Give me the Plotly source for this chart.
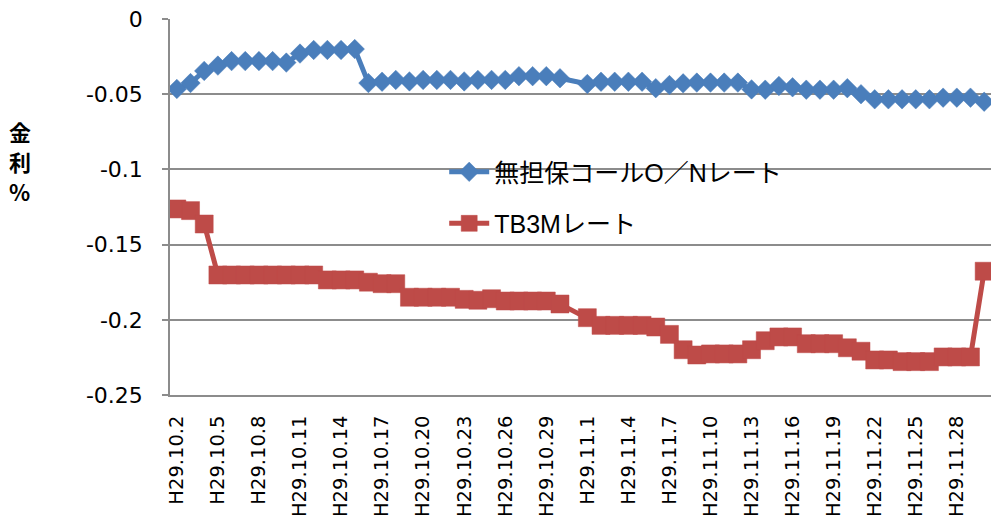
import plotly.graph_objects as go

# categories: every day from H29.10.2 to H29.11.30
oct_days = [f"H29.10.{d}" for d in range(2, 32)]
nov_days = [f"H29.11.{d}" for d in range(1, 31)]
dates = oct_days + nov_days

tick_labels = dates[::3]

call_rate = [
    -0.0465, -0.0426, -0.0345, -0.0310, -0.0280, -0.0280, -0.0280, -0.0280, -0.0290, -0.0230,
    -0.0206, -0.0206, -0.0206, -0.0200, -0.0426, -0.0417, -0.0405, -0.0415, -0.0405, -0.0405,
    -0.0405, -0.0415, -0.0405, -0.0405, -0.0405, -0.0380, -0.0380, -0.0380, -0.0394, None,
    -0.0432, -0.0417, -0.0417, -0.0417, -0.0417, -0.0460, -0.0439, -0.0428, -0.0423, -0.0423,
    -0.0423, -0.0423, -0.0468, -0.0470, -0.0445, -0.0454, -0.0470, -0.0470, -0.0470, -0.0460,
    -0.0500, -0.0534, -0.0534, -0.0534, -0.0534, -0.0534, -0.0523, -0.0523, -0.0523, -0.0550,
]

tb3m_rate = [
    -0.1263, -0.1274, -0.1363, -0.1702, -0.1702, -0.1702, -0.1702, -0.1702, -0.1702, -0.1702,
    -0.1702, -0.1735, -0.1735, -0.1735, -0.1750, -0.1760, -0.1760, -0.1850, -0.1850, -0.1850,
    -0.1850, -0.1864, -0.1870, -0.1860, -0.1875, -0.1875, -0.1875, -0.1875, -0.1895, None,
    -0.1986, -0.2037, -0.2037, -0.2037, -0.2037, -0.2048, -0.2097, -0.2199, -0.2234, -0.2227,
    -0.2227, -0.2227, -0.2199, -0.2139, -0.2114, -0.2114, -0.2159, -0.2159, -0.2159, -0.2186,
    -0.2209, -0.2267, -0.2267, -0.2278, -0.2278, -0.2278, -0.2247, -0.2247, -0.2247, -0.1677,
]

y_tickvals = [-0.25, -0.2, -0.15, -0.1, -0.05, 0]
y_ticktext = ["-0.25", "-0.2", "-0.15", "-0.1", "-0.05", "0"]

y_title_chars = ["金", "利", "%"]

BLUE = "#4A7EBB"
RED = "#BE4B48"
GRID = "#8C8C8C"
JP = "Liberation Sans, Noto Sans CJK JP, sans-serif"

fig = go.Figure()
fig.add_trace(go.Scatter(
    x=dates, y=call_rate, name="無担保コールO／Nレート",
    mode="lines+markers", connectgaps=True, legendgroup="a",
    line=dict(color=BLUE, width=5),
    marker=dict(symbol="diamond", size=15, color=BLUE, line=dict(color=BLUE, width=0.5)),
))
fig.add_trace(go.Scatter(
    x=dates, y=tb3m_rate, name="TB3Mレート",
    mode="lines+markers", connectgaps=True, legendgroup="b",
    line=dict(color=RED, width=5),
    marker=dict(symbol="square", size=18, color=RED, line=dict(color=RED, width=0.5)),
))

# stacked vertical axis title (one character per line)
title_annotations = []
for i, ch in enumerate(y_title_chars):
    title_annotations.append(dict(
        text=f"<b>{ch}</b>", xref="paper", yref="paper",
        x=-0.183, y=0.702 - i * 0.08, xanchor="center", yanchor="middle", showarrow=False,
        font=dict(family="Noto Sans CJK JP", size=22, color="black"),
    ))

fig.update_layout(
    width=991, height=521,
    margin=dict(l=170, r=0, t=19, b=126, autoexpand=False),
    paper_bgcolor="white", plot_bgcolor="white",
    showlegend=True,
    legend=dict(
        x=0.334, y=0.654, xanchor="left", yanchor="top",
        bgcolor="rgba(0,0,0,0)", font=dict(family=JP, size=25, color="black"),
        tracegroupgap=16, itemwidth=40,
    ),
    xaxis=dict(
        type="category", range=[-0.5, len(dates) - 0.5], automargin=False,
        tickmode="array", tickvals=tick_labels, ticktext=tick_labels,
        tickangle=-90, ticks="", showgrid=False,
        showline=True, linecolor=GRID, linewidth=1.5,
        tickfont=dict(family="DejaVu Sans", size=19.5, color="black"),
        ticklabelstandoff=11,
    ),
    xaxis2=dict(
        overlaying="x", side="top", range=[-0.5, len(dates) - 0.5], automargin=False,
        tickmode="linear", tick0=-0.5, dtick=3,
        ticks="inside", ticklen=7, tickcolor=GRID, tickwidth=1.5,
        showticklabels=False, showgrid=False,
        showline=True, linecolor=GRID, linewidth=1.5, zeroline=False,
    ),
    yaxis=dict(
        range=[-0.25, 0], tickmode="array", tickvals=y_tickvals, ticktext=y_ticktext,
        automargin=False,
        showgrid=True, gridcolor=GRID, gridwidth=1.5,
        showline=True, linecolor=GRID, linewidth=1.5, zeroline=False,
        ticks="outside", ticklen=6, tickcolor=GRID, tickwidth=1.5,
        tickfont=dict(family="DejaVu Sans", size=22, color="black"),
        ticklabelstandoff=15,
    ),
    annotations=title_annotations,
)

fig.write_html(
    "out.html",
    config={"displayModeBar": False},
    post_script="document.body.style.margin='0px';",
)
